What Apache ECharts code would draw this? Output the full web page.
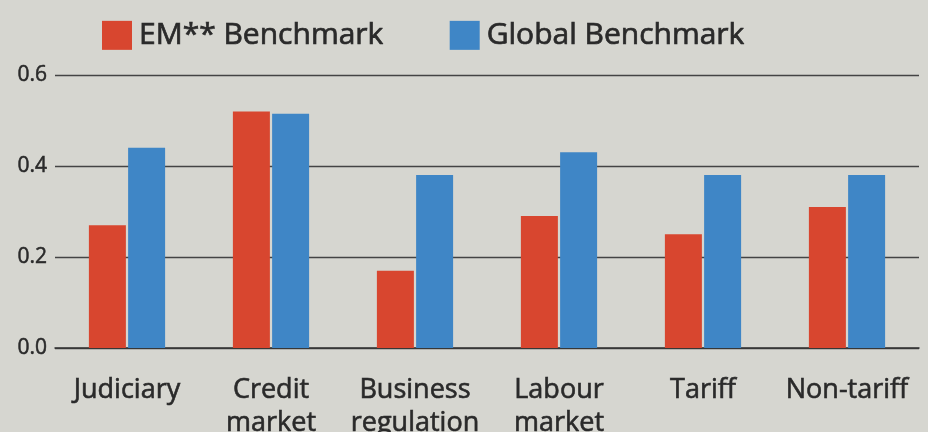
<!DOCTYPE html>
<html><head><meta charset="utf-8">
<script src="https://cdn.jsdelivr.net/npm/echarts@6/dist/echarts.min.js"></script>
<style>html,body{margin:0;padding:0;background:#d6d6d0}#c{width:928px;height:432px}</style>
</head><body><div id="c"></div>
<script>
var categories = ['Judiciary', 'Credit\nmarket', 'Business\nregulation', 'Labour\nmarket', 'Tariff', 'Non-tariff'];
var emValues = [0.27, 0.52, 0.17, 0.29, 0.25, 0.31];
var globalValues = [0.44, 0.515, 0.38, 0.43, 0.38, 0.38];
var yTicks = [0, 0.2, 0.4, 0.6];

var chart = echarts.init(document.getElementById('c'));
var font = '"Open Sans", sans-serif';
var ink = '#2a2a2a';
chart.setOption({
  backgroundColor: '#d6d6d0',
  animation: false,
  legend: {
    left: 97, top: 15, itemWidth: 30, itemHeight: 29, itemGap: 66,
    icon: 'rect',
    textStyle: { fontSize: 30, color: ink, fontFamily: font, padding: [0, 0, 0, 2],
      textBorderColor: ink, textBorderWidth: 0.7 },
    data: ['EM** Benchmark', 'Global Benchmark']
  },
  grid: { left: 55, right: 9, top: 75, bottom: 84, outerBoundsMode: 'none', containLabel: false },
  xAxis: {
    type: 'category', data: categories,
    axisTick: { show: false },
    axisLine: { lineStyle: { color: '#333', width: 1.5 } },
    axisLabel: { fontSize: 27, color: ink, fontFamily: font, margin: 26, lineHeight: 33, interval: 0,
      textBorderColor: ink, textBorderWidth: 0.6 }
  },
  yAxis: {
    type: 'value', min: 0, max: 0.6, interval: 0.2,
    axisLabel: { fontSize: 21, color: ink, fontFamily: font, margin: 8,
      textBorderColor: ink, textBorderWidth: 0.5,
      formatter: function (v) { var i = yTicks.indexOf(Math.round(v * 10) / 10); return (i >= 0 ? yTicks[i] : v).toFixed(1); } },
    axisLine: { show: false }, axisTick: { show: false },
    splitLine: { lineStyle: { color: '#444', width: 1.4 } }
  },
  series: [
    { name: 'EM** Benchmark', type: 'bar', data: emValues, barWidth: 37, barGap: '6%',
      itemStyle: { color: '#d8462f' } },
    { name: 'Global Benchmark', type: 'bar', data: globalValues, barWidth: 37,
      itemStyle: { color: '#3f86c6' } }
  ]
});
</script></body></html>
